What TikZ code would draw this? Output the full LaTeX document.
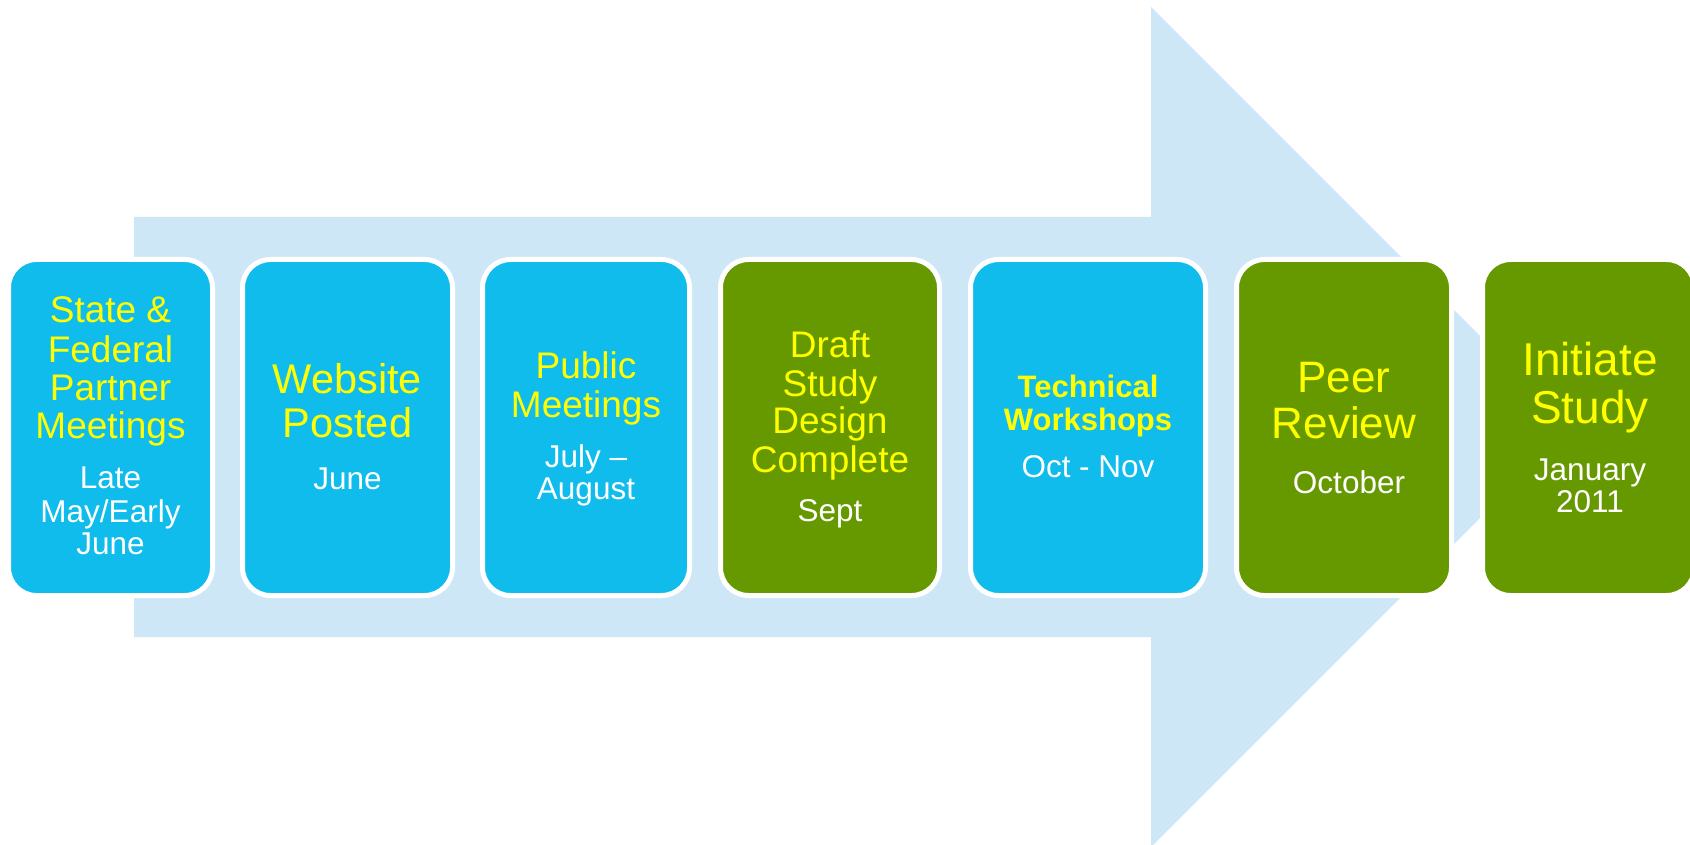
\documentclass[tikz,border=0pt]{standalone}
\usepackage{fontspec}
\setmainfont{Liberation Sans}
\definecolor{arrowblue}{RGB}{205,231,247}
\definecolor{boxblue}{RGB}{16,188,236}
\definecolor{boxgreen}{RGB}{102,153,0}
\definecolor{txtyellow}{RGB}{255,255,0}
\tikzset{
  card/.style={draw=white, line width=5pt, rounded corners=28pt, minimum height=336pt, inner sep=0pt},
  bluecard/.style={card, fill=boxblue},
  greencard/.style={card, fill=boxgreen},
  ttl/.style={anchor=base, inner sep=0pt, text=txtyellow, font=\fontsize{37}{37}\selectfont},
  ttlb/.style={ttl, font=\fontsize{41.5}{41.5}\selectfont},
  ttlc/.style={ttl, font=\fontsize{44}{44}\selectfont},
  ttld/.style={ttl, font=\fontsize{46}{46}\selectfont},
  ttlbold/.style={ttl, font=\fontsize{31}{31}\selectfont\bfseries},
  sub/.style={anchor=base, inner sep=0pt, text=white, font=\fontsize{31.5}{31.5}\selectfont}
}
\begin{document}
\begin{tikzpicture}[x=1pt,y=-1pt]
\useasboundingbox (0,0) rectangle (1690,845);
% big arrow
\fill[arrowblue] (134,217) -- (1151,217) -- (1151,7) -- (1571,427) -- (1151,847) -- (1151,637) -- (134,637) -- cycle;
% cards
\node[bluecard, minimum width=204pt] (c1) at (110.5,427.5) {};
\node[bluecard, minimum width=210pt] (c2) at (347.5,427.5) {};
\node[bluecard, minimum width=207pt] (c3) at (586,427.5) {};
\node[greencard, minimum width=219pt] (c4) at (830,427.5) {};
\node[bluecard, minimum width=235pt] (c5) at (1088,427.5) {};
\node[greencard, minimum width=215pt] (c6) at (1344,427.5) {};
\node[greencard, minimum width=212pt] (c7) at (1588.5,427.5) {};
% card 1
\node[ttl] (t1a) at (110.5,323) {State \&};
\node[ttl] (t1b) at (110.5,362) {Federal};
\node[ttl] (t1c) at (110.5,400) {Partner};
\node[ttl] (t1d) at (110.5,438) {Meetings};
\node[sub] (s1a) at (110.5,488) {Late};
\node[sub] (s1b) at (110.5,522) {May/Early};
\node[sub] (s1c) at (110.5,554) {June};
% card 2
\node[ttlb] (t2a) at (347.5,393) {Website};
\node[ttlb] (t2b) at (347.5,437) {Posted};
\node[sub] (s2a) at (347.5,489) {June};
% card 3
\node[ttl] (t3a) at (586,378) {Public};
\node[ttl] (t3b) at (586,417) {Meetings};
\node[sub] (s3a) at (586,467) {July –};
\node[sub] (s3b) at (586,499) {August};
% card 4
\node[ttl] (t4a) at (830,357) {Draft};
\node[ttl] (t4b) at (830,396) {Study};
\node[ttl] (t4c) at (830,433) {Design};
\node[ttl] (t4d) at (830,472) {Complete};
\node[sub] (s4a) at (830,521) {Sept};
% card 5
\node[ttlbold] (t5a) at (1088,397) {Technical};
\node[ttlbold] (t5b) at (1088,430) {Workshops};
\node[sub] (s5a) at (1088,477) {Oct - Nov};
% card 6
\node[ttlc] (t6a) at (1344,392) {Peer};
\node[ttlc] (t6b) at (1344,438) {Review};
\node[sub] (s6a) at (1349,493) {October};
% card 7
\node[ttld] (t7a) at (1590,375) {Initiate};
\node[ttld] (t7b) at (1590,423) {Study};
\node[sub] (s7a) at (1590,480) {January};
\node[sub] (s7b) at (1590,512) {2011};
\end{tikzpicture}
\end{document}
